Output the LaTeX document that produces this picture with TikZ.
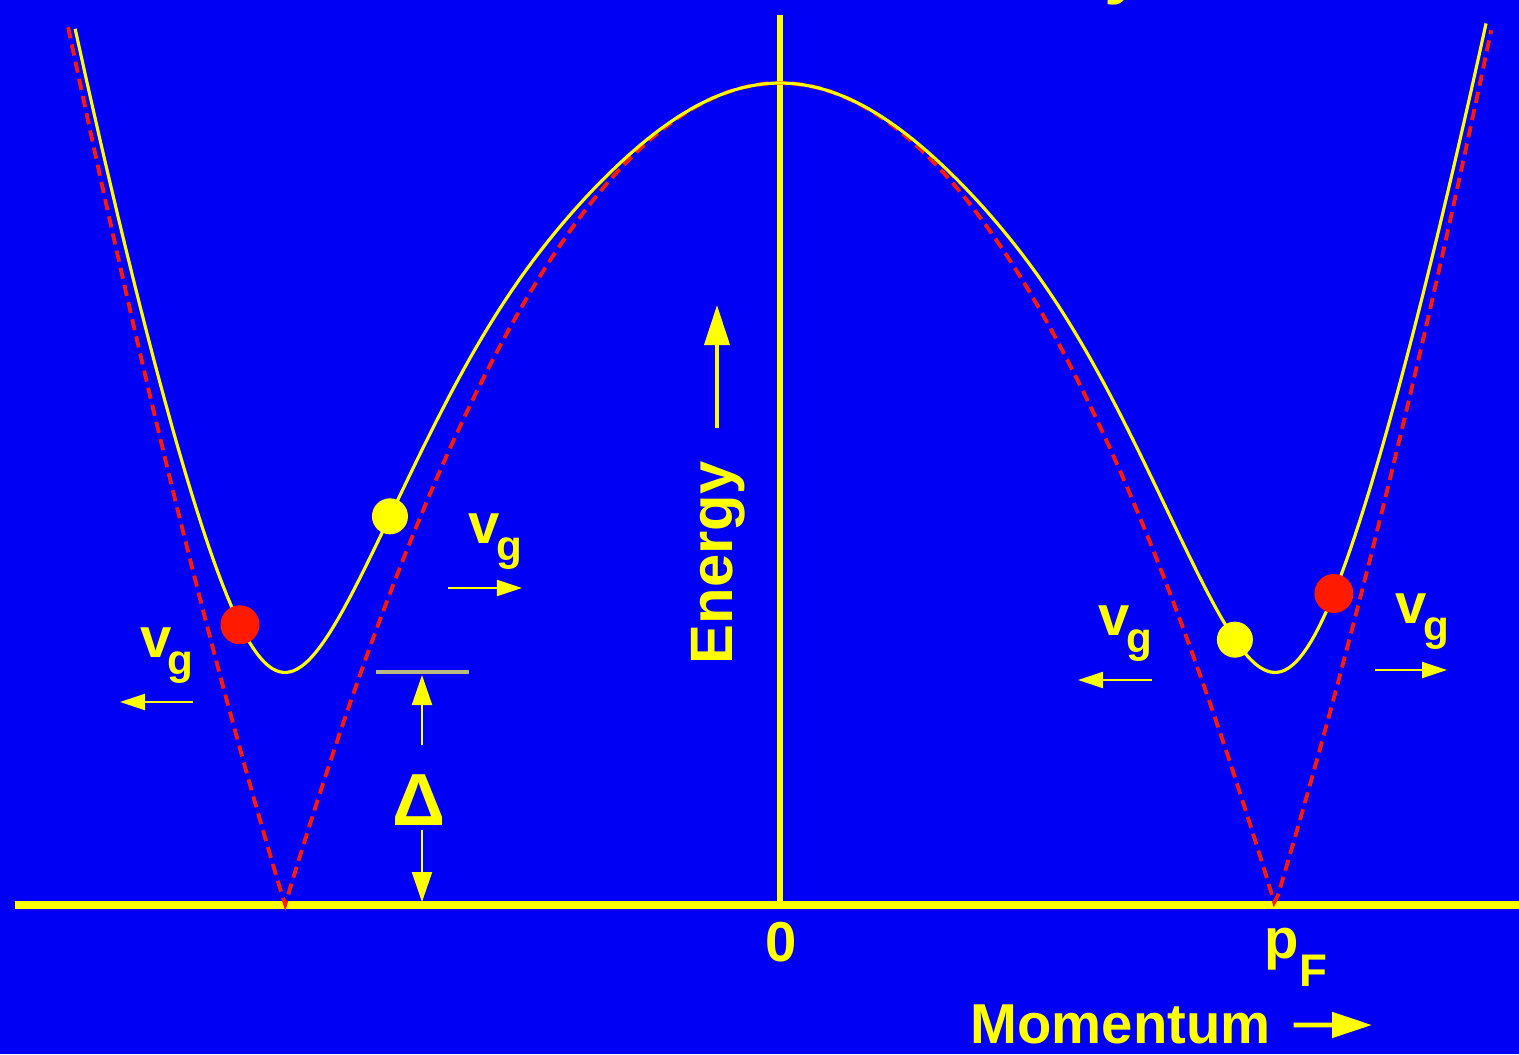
\documentclass[tikz,border=0pt]{standalone}
\usepackage{fontspec}
\setmainfont{Liberation Sans}
\usetikzlibrary{arrows.meta,positioning}
\definecolor{gpBlue}{HTML}{0000F5}
\definecolor{gpYellow}{HTML}{FFFF00}
\definecolor{gpRed}{HTML}{FF1A00}
\definecolor{gpTick}{HTML}{B8B880}
\newcommand{\vgsub}{v\hspace{-0.04cm}\raisebox{-0.17cm}{\fontsize{12}{12}\selectfont g}}
\tikzset{
  % Axis lines
  axline/.style={draw=gpYellow,line width=2.2pt},
  % Quasiparticle curve (yellow)
  qcurve/.style={draw=gpYellow,line width=0.9pt},
  % Normal state curve (red, dashed)
  ncurve/.style={draw=gpRed,line width=1.1pt,dash pattern=on 3.2pt off 1.8pt},
  % Particles on the curve
  ydot/.style={circle,fill=gpYellow,minimum size=0.36cm,inner sep=0pt},
  rdot/.style={circle,fill=gpRed,minimum size=0.39cm,inner sep=0pt},
  % Labels
  lbl/.style={font=\fontsize{16}{18}\selectfont\bfseries,text=gpYellow,inner sep=0pt},
  % Arrows
  vgarr/.style={-{Triangle[length=0.25cm,width=0.16cm]},draw=gpYellow,line width=0.6pt},
  garr/.style={-{Triangle[length=0.3cm,width=0.2cm]},draw=gpYellow,line width=0.6pt},
  axarr/.style={-{Triangle[length=0.4cm,width=0.25cm]},draw=gpYellow,line width=1.1pt},
}
\begin{document}
\begin{tikzpicture}[x=0.01cm,y=-0.01cm,
  declare function={qe(\p)=sqrt((\p*\p-1)*(\p*\p-1)+0.0801*(1-exp(-min(16*(\p*\p)*(\p*\p),20))));}]
  \clip (0,0) rectangle (1519,1054);
  \fill[gpBlue] (0,0) rectangle (1519,1054);

  % Title fragment (cut off at the top)
  \node[lbl,font=\fontsize{20}{22}\selectfont\bfseries,anchor=base west] (ttl) at (1104,-10) {y};

  % Axes
  \coordinate (o) at (780,905);
  \coordinate (xl) at (15,905);
  \coordinate (xr) at (1519,905);
  \coordinate (yt) at (780,15);
  \draw[axline] (xl) -- (xr);
  \draw[axline,line width=1.7pt] (o) -- (yt);

  % Dispersion curves
  \begin{scope}[shift={(780,905)},xscale=495,yscale=-822]
    \draw[ncurve] plot[domain=-1.438:1.438,samples=401] (\x,{abs(\x*\x-1)});
    \draw[qcurve] plot[domain=-1.424:1.430,samples=401,smooth] (\x,{qe(\x)});
    \node[rdot] (rdL) at (-1.091,{qe(-1.091)}) {};
    \node[ydot] (ydL) at (-0.788,{qe(-0.788)}) {};
    \node[ydot] (ydR) at (0.919,{qe(0.919)}) {};
    \node[rdot] (rdR) at (1.119,{qe(1.119)}) {};
  \end{scope}

  % Group velocity labels
  \node[lbl,anchor=base west] (vg1) at (140,657) {\vgsub};
  \node[lbl,anchor=base west] (vg2) at (468,543) {\vgsub};
  \node[lbl,anchor=base west] (vg3) at (1098,635) {\vgsub};
  \node[lbl,anchor=base west] (vg4) at (1395,623) {\vgsub};
  \coordinate (a1s) at (193,702); \coordinate (a1e) at (120,702);
  \coordinate (a2s) at (448,588); \coordinate (a2e) at (522,588);
  \coordinate (a3s) at (1152,680); \coordinate (a3e) at (1078,680);
  \coordinate (a4s) at (1375,670); \coordinate (a4e) at (1447,670);
  \draw[vgarr] (a1s) -- (a1e);
  \draw[vgarr] (a2s) -- (a2e);
  \draw[vgarr] (a3s) -- (a3e);
  \draw[vgarr] (a4s) -- (a4e);

  % Gap
  \coordinate (gapL) at (376,672);
  \coordinate (gapR) at (469,672);
  \draw[gpTick,line width=1pt] (gapL) -- (gapR);
  \node[lbl,font=\fontsize{21}{24}\selectfont\bfseries] (dlt) at (419,800) {Δ};
  \coordinate (dA) at (422,745); \coordinate (dT) at (422,675);
  \coordinate (dB) at (422,830); \coordinate (dBs) at (422,902);
  \draw[garr] (dA) -- (dT);
  \draw[garr] (dB) -- (dBs);

  % Axis labels
  \node[lbl] (zero) at (781,942) {0};
  \node[lbl,anchor=base west] (pf) at (1264,958)
    {p\raisebox{-0.28cm}{\fontsize{13}{13}\selectfont F}};
  \node[lbl,anchor=base west] (mom) at (970,1043) {Momentum};
  \coordinate (momA) at (1372,1025);
  \draw[axarr,line width=1.4pt] ([xshift=0.22cm,yshift=0.18cm]mom.base east) -- (momA);
  \node[lbl,font=\fontsize{17}{19}\selectfont\bfseries,rotate=90,anchor=base west] (enl) at (732,665) {Energy};
  \coordinate (enA) at (717,305);
  \draw[axarr] (717,428) -- (enA);
\end{tikzpicture}
\end{document}
